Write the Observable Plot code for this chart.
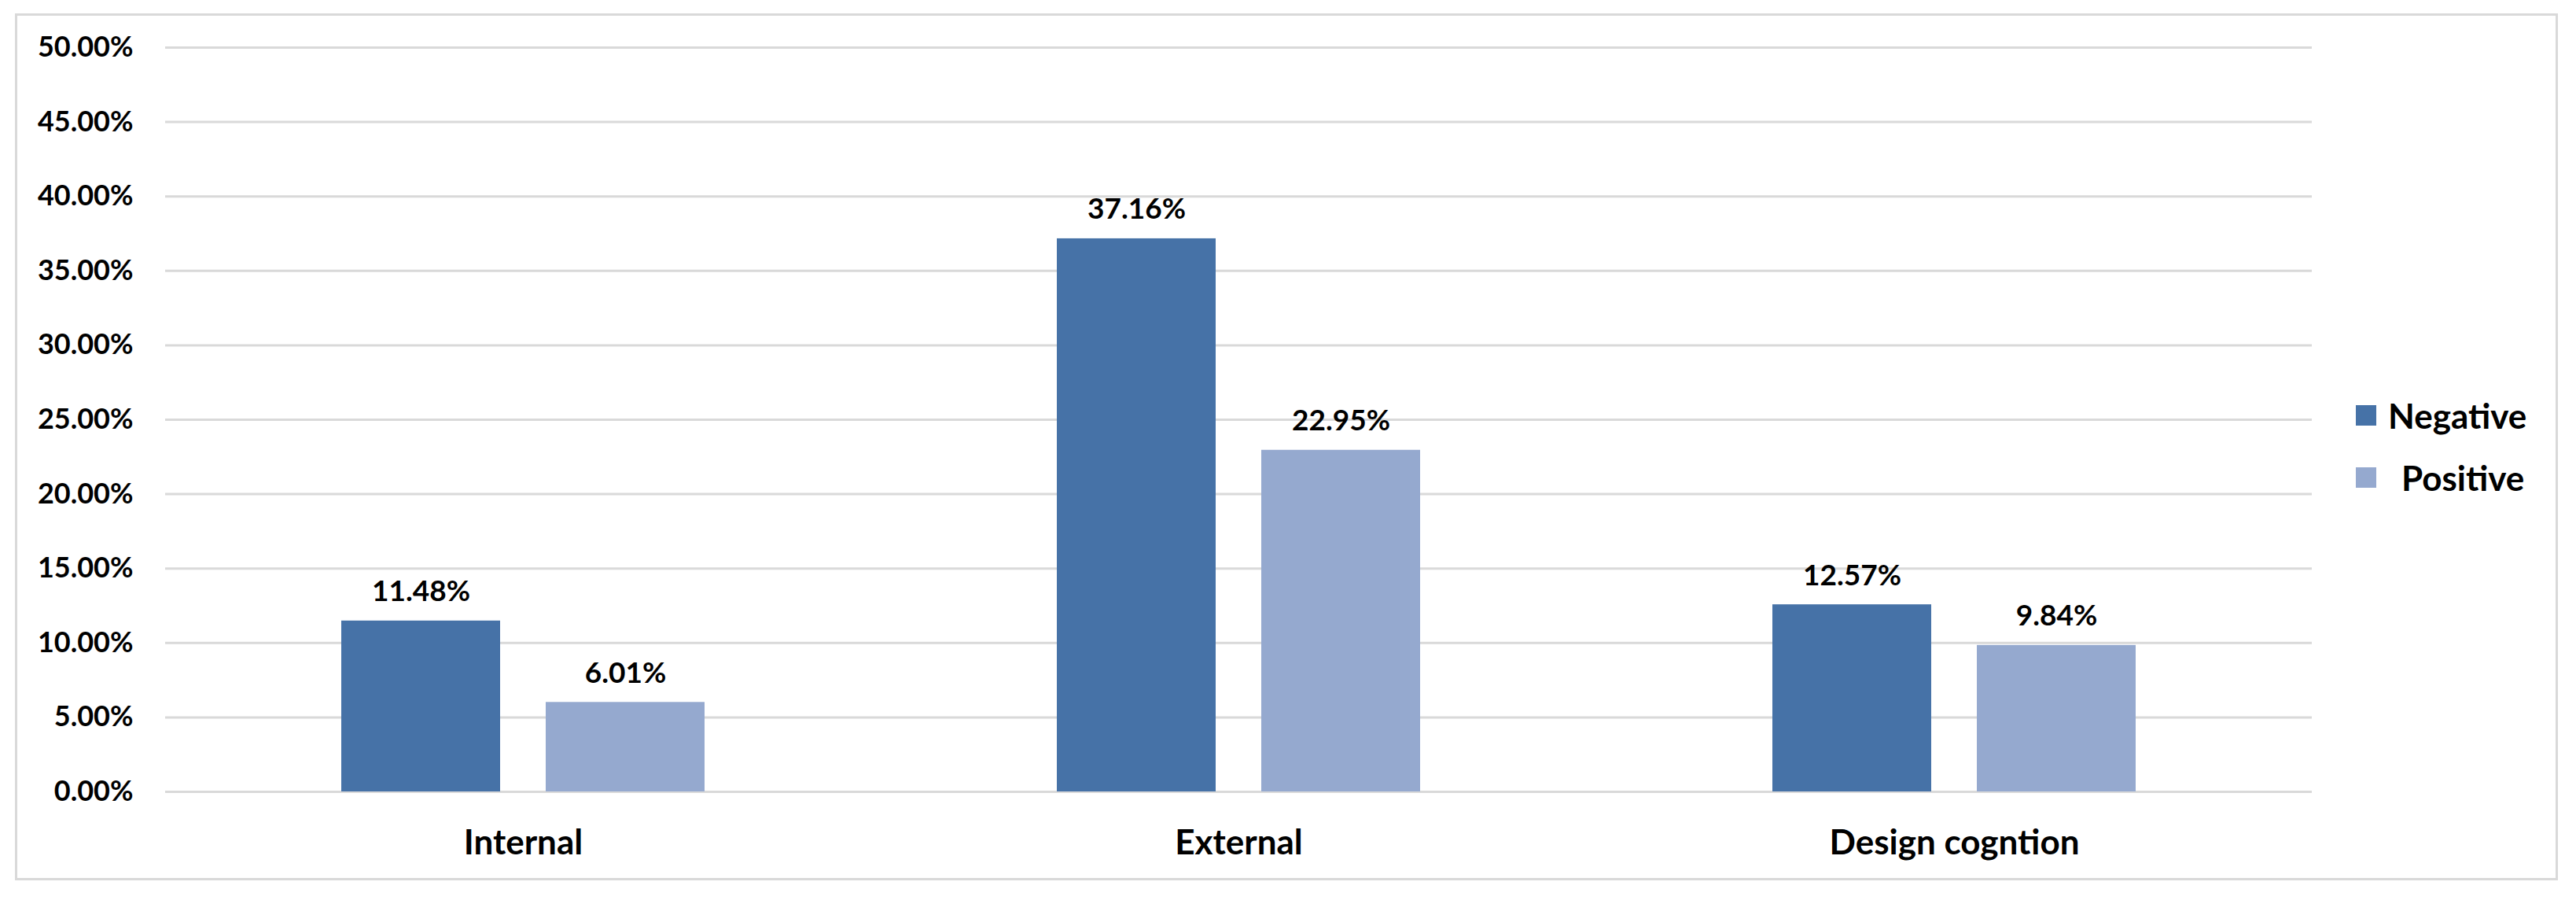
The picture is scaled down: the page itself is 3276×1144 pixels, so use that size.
<!DOCTYPE html>
<html>
<head>
<meta charset="utf-8">
<script src="https://cdn.jsdelivr.net/npm/d3@7"></script>
<script src="https://cdn.jsdelivr.net/npm/@observablehq/plot@0.6"></script>
<style>
  html, body { margin: 0; padding: 0; background: #fff; }
  #wrap { position: relative; width: 3276px; height: 1144px; font-family: Lato, "Open Sans", sans-serif; }
  #frame { position: absolute; left: 19px; top: 17px; width: 3234px; height: 1102px; border: 3px solid #d9d9d9; box-sizing: border-box; }
  #chart { position: absolute; left: 0; top: 0; }
  #legend { position: absolute; left: 2996px; top: 488px; }
  .item { display: flex; align-items: center; height: 79px; font-size: 44px; font-weight: bold; color: #000; }
  .sw { width: 26px; height: 26px; margin-right: 15px; }
</style>
</head>
<body>
<div id="wrap">
  <div id="frame"></div>
  <div id="chart"></div>
  <div id="legend"></div>
</div>
<script>
const categories = ["Internal", "External", "Design cogntion"];
const series = ["Negative", "Positive"];
const negative = [0.1148, 0.3716, 0.1257];
const positive = [0.0601, 0.2295, 0.0984];
const yTicks = [0, 0.05, 0.10, 0.15, 0.20, 0.25, 0.30, 0.35, 0.40, 0.45, 0.50];
const colors = ["#4672a7", "#95a9cf"];

const data = categories.flatMap((c, i) => [
  {category: c, series: series[0], value: negative[i]},
  {category: c, series: series[1], value: positive[i]}
]);
const pct = d3.format(".2%");

const chart = Plot.plot({
  width: 2960,
  height: 1144,
  marginLeft: 209,
  marginRight: 19,
  marginTop: 60,
  marginBottom: 138,
  style: {fontFamily: "Lato, 'Open Sans', sans-serif", background: "transparent", color: "#000"},
  fx: {domain: categories, padding: 0, label: null},
  x: {domain: series, paddingInner: 0.222, paddingOuter: 0.856, axis: null},
  y: {domain: [0, 0.5], label: null},
  color: {domain: series, range: colors},
  marks: [
    Plot.gridY(yTicks, {stroke: "#d9d9d9", strokeOpacity: 1, strokeWidth: 3}),
    Plot.axisY(yTicks, {tickSize: 0, tickPadding: 41, tickFormat: pct, fontSize: 36, fontWeight: "bold", fill: "#000", label: null}),
    Plot.axisFx({anchor: "bottom", tickSize: 0, tickPadding: 48, fontSize: 44, fontWeight: "bold", fill: "#000", label: null}),
    Plot.barY(data, {fx: "category", x: "series", y: "value", fill: "series"}),
    Plot.text(data, {fx: "category", x: "series", y: "value", text: d => pct(d.value), lineAnchor: "bottom", dy: -25, fontSize: 37, fontWeight: "bold", fill: "#000"})
  ]
});
document.getElementById("chart").appendChild(chart);

const legend = document.getElementById("legend");
series.forEach((s, i) => {
  const item = document.createElement("div");
  item.className = "item";
  const sw = document.createElement("span");
  sw.className = "sw";
  sw.style.background = colors[i];
  const lab = document.createElement("span");
  lab.textContent = s;
  if (i === 1) lab.style.marginLeft = "17px";
  item.appendChild(sw);
  item.appendChild(lab);
  legend.appendChild(item);
});
</script>
</body>
</html>
